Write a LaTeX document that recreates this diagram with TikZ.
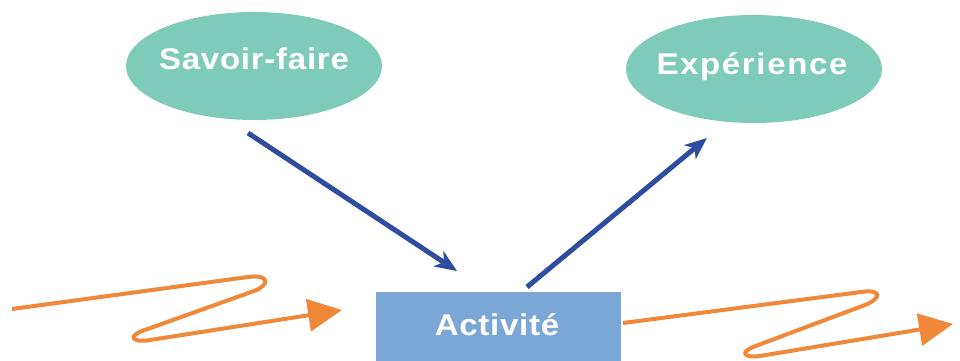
\documentclass[tikz,border=0pt]{standalone}
\usepackage{fontspec}
\setmainfont{Liberation Sans}
\newfontfamily\labelfont[LetterSpace=2.5, FakeStretch=1.1]{Liberation Sans Bold}
\newfontfamily\widelabelfont[LetterSpace=5.5, FakeStretch=1.1]{Liberation Sans Bold}
\usetikzlibrary{shapes.geometric,arrows.meta}
\definecolor{tealfill}{RGB}{126,203,185}
\definecolor{boxfill}{RGB}{123,167,215}
\definecolor{arrowblue}{RGB}{46,77,160}
\definecolor{floworange}{RGB}{240,136,58}
\tikzset{
  bubble/.style={ellipse, fill=tealfill, draw=none, minimum width=256pt, minimum height=108pt, inner sep=0pt},
  actbox/.style={rectangle, fill=boxfill, draw=none, minimum width=245pt, minimum height=69pt, inner sep=0pt},
  lbl/.style={text=white, font=\labelfont\fontsize{30}{32}\selectfont, inner sep=0pt},
  widelbl/.style={lbl, font=\widelabelfont\fontsize{30}{32}\selectfont},
  link/.style={draw=arrowblue, line width=5pt, -{Stealth[length=22pt, width=18pt, inset=6pt]}},
  flow/.style={draw=floworange, line width=4pt, line join=round, -{Triangle[length=34pt, width=32pt]}},
}
\begin{document}
\begin{tikzpicture}[x=1pt, y=-1pt]
  \useasboundingbox (0,0) rectangle (960,361);

  % the two ellipses and the activity box
  \node[bubble] (sf) at (254,66) {};
  \node[bubble] (xp) at (754,69) {};
  \node[actbox] (act) at (498.5,326.5) {};

  \node[lbl] (sftxt) at (254,58.5) {Savoir-faire};
  \node[widelbl] (xptxt) at (752,66.5) {Expérience};
  \node[lbl] (acttxt) at (497,324.5) {Activité};

  % free ends of the blue connectors
  \coordinate (sfout) at (248,133);
  \coordinate (actin) at (457,271);
  \coordinate (actout) at (527,287);
  \coordinate (xpin) at (707,138);
  \draw[link] (sfout) -- (actin);
  \draw[link] (actout) -- (xpin);

  % orange zigzag flows
  \coordinate (inA) at (12,309);
  \coordinate (inB) at (342,310);
  \draw[flow] (inA) -- (248,277)
    .. controls (270,274) and (270,285) .. (254,291)
    -- (142,331)
    .. controls (127,337) and (134,343) .. (150,340)
    -- (inB);

  \coordinate (outA) at (623,323);
  \coordinate (outB) at (953,324);
  \draw[flow] (outA) -- (861,292)
    .. controls (882,289) and (882,298) .. (865,305)
    -- (753,347)
    .. controls (739,353) and (745,358) .. (760,356)
    -- (outB);
\end{tikzpicture}
\end{document}
